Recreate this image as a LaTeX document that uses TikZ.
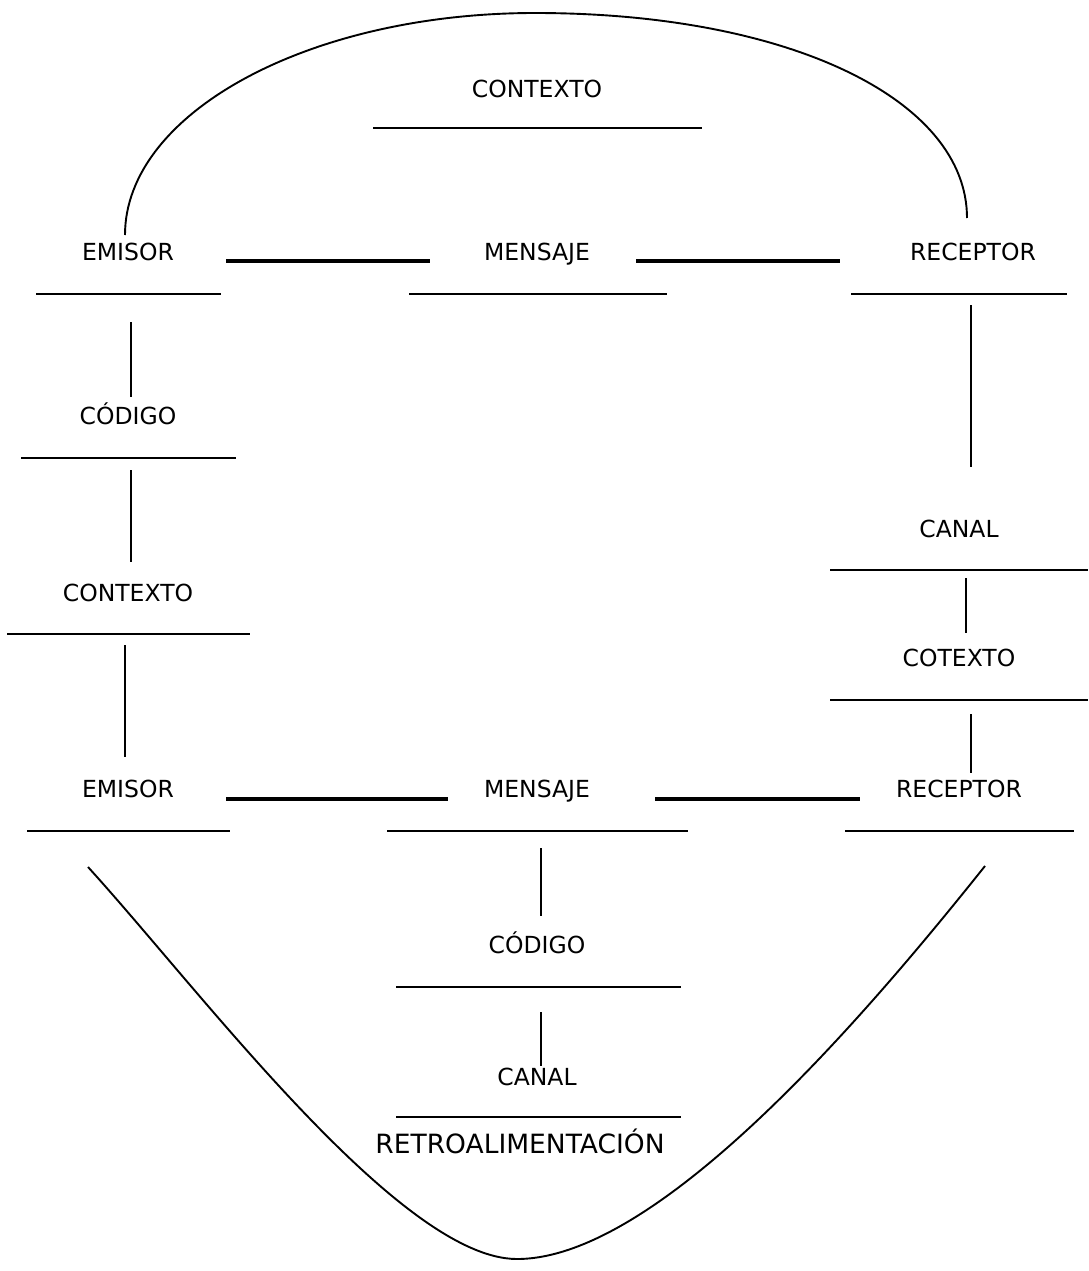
\documentclass[tikz,border=0pt]{standalone}
\usepackage{fontspec}
\setmainfont{DejaVu Sans}
\begin{document}
\begin{tikzpicture}[x=1pt,y=-1pt,
  lbl/.style={font=\fontsize{23.5}{27}\selectfont, anchor=base, inner sep=0pt},
  biglbl/.style={font=\fontsize{26.5}{30}\selectfont, anchor=base, inner sep=0pt},
  uline/.style={line width=2.1pt},
  link/.style={line width=3.2pt},
  vlink/.style={line width=2.3pt},
  curve/.style={line width=1.9pt}]
\useasboundingbox (0,0) rectangle (1089,1271);
% labels
\node[lbl] (ctxtop) at (537,97.6) {CONTEXTO};
\node[lbl] (em1) at (128,260.6) {EMISOR};
\node[lbl] (me1) at (537,260.6) {MENSAJE};
\node[lbl] (re1) at (973,260.6) {RECEPTOR};
\node[lbl] (cod1) at (128,424.6) {CÓDIGO};
\node[lbl] (ctx2) at (128,601.6) {CONTEXTO};
\node[lbl] (em2) at (128,797.6) {EMISOR};
\node[lbl] (me2) at (537,797.6) {MENSAJE};
\node[lbl] (re2) at (959,797.6) {RECEPTOR};
\node[lbl] (can1) at (959,537.6) {CANAL};
\node[lbl] (cot) at (959,666.6) {COTEXTO};
\node[lbl] (cod2) at (537,953.6) {CÓDIGO};
\node[lbl] (can2) at (537,1085.6) {CANAL};
\node[biglbl] (retro) at (520,1153.7) {RETROALIMENTACIÓN};
% underlines
\draw[uline] (373,128) -- (702,128);
\draw[uline] (36,294) -- (221,294);
\draw[uline] (409,294) -- (667,294);
\draw[uline] (851,294) -- (1067,294);
\draw[uline] (21,458) -- (236,458);
\draw[uline] (7,634) -- (250,634);
\draw[uline] (27,831) -- (230,831);
\draw[uline] (387,831) -- (688,831);
\draw[uline] (845,831) -- (1074,831);
\draw[uline] (830,570) -- (1088,570);
\draw[uline] (830,700) -- (1088,700);
\draw[uline] (396,987) -- (681,987);
\draw[uline] (396,1117) -- (681,1117);
% connector end points
\coordinate (h1a) at (226,261); \coordinate (h1b) at (430,261);
\coordinate (h2a) at (636,261); \coordinate (h2b) at (840,261);
\coordinate (h3a) at (226,799); \coordinate (h3b) at (448,799);
\coordinate (h4a) at (655,799); \coordinate (h4b) at (860,799);
\coordinate (v1a) at (131,322); \coordinate (v1b) at (131,397);
\coordinate (v2a) at (131,470); \coordinate (v2b) at (131,562);
\coordinate (v3a) at (125,645); \coordinate (v3b) at (125,757);
\coordinate (v4a) at (971,305); \coordinate (v4b) at (971,467);
\coordinate (v5a) at (966,578); \coordinate (v5b) at (966,633);
\coordinate (v6a) at (971,714); \coordinate (v6b) at (971,773);
\coordinate (v7a) at (541,848); \coordinate (v7b) at (541,916);
\coordinate (v8a) at (541,1012); \coordinate (v8b) at (541,1066);
\coordinate (arcL) at (125,235); \coordinate (arcT) at (535,13); \coordinate (arcR) at (967,218);
\coordinate (botL) at (88,867); \coordinate (botB) at (517,1259); \coordinate (botR) at (985,866);
% connectors
\draw[link] (h1a) -- (h1b);
\draw[link] (h2a) -- (h2b);
\draw[link] (h3a) -- (h3b);
\draw[link] (h4a) -- (h4b);
\draw[vlink] (v1a) -- (v1b);
\draw[vlink] (v2a) -- (v2b);
\draw[vlink] (v3a) -- (v3b);
\draw[vlink] (v4a) -- (v4b);
\draw[vlink] (v5a) -- (v5b);
\draw[vlink] (v6a) -- (v6b);
\draw[vlink] (v7a) -- (v7b);
\draw[vlink] (v8a) -- (v8b);
\draw[curve] (arcL) .. controls (125,113) and (309,13) .. (arcT)
  .. controls (790,13) and (967,100) .. (arcR);
\draw[curve] (botL) .. controls (200,990) and (400,1259) .. (botB)
  .. controls (660,1259) and (870,1010) .. (botR);
\end{tikzpicture}
\end{document}
